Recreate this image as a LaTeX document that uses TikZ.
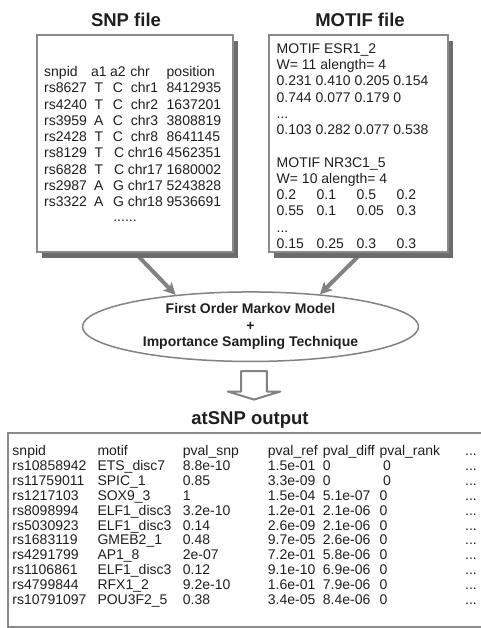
\documentclass[tikz,border=0pt]{standalone}
\usepackage{fontspec}
\setmainfont{Liberation Sans}
\usetikzlibrary{shapes.geometric,shadows,arrows.meta,backgrounds}

\definecolor{frame}{HTML}{8A8A8A}
\definecolor{shade}{HTML}{6C6C6C}
\definecolor{ink}{HTML}{1F1F1F}
\definecolor{flow}{HTML}{828282}

% one column of text lines, first baseline = node base
\newcommand\leftrows[1]{\begin{tabular}[t]{@{}l@{}}#1\end{tabular}}
\newcommand\midrows[1]{\begin{tabular}[t]{@{}c@{}}#1\end{tabular}}
\newcommand\tabcell[1]{\makebox[40pt][l]{#1}}
\newcommand\nudge[1]{\hspace*{#1}}

\begin{document}
\begin{tikzpicture}[x=1pt,y=-1pt,
  filebox/.style={draw=frame,line width=2pt,fill=white,inner sep=0pt,
    drop shadow={shadow xshift=5pt,shadow yshift=-6pt,fill=shade,opacity=1}},
  heading/.style={font=\fontsize{18.5}{22}\selectfont\bfseries,text=ink,inner sep=0pt,anchor=base},
  filetext/.style={font=\fontsize{14}{16.25}\selectfont,text=ink,inner sep=0pt},
  outtext/.style={font=\fontsize{14}{14.85}\selectfont,text=ink,inner sep=0pt,anchor=base west},
  feed/.style={draw=flow,line width=4pt,-{Stealth[length=12pt,width=12pt,inset=3pt]}},
]
\useasboundingbox (0,0) rectangle (480,628);

% headings
\node[heading] (snptitle) at (126,26.6) {SNP file};
\node[heading] (motiftitle) at (360,26.6) {MOTIF file};
\node[heading] (outtitle) at (250,424) {atSNP output};

% input files
\node[filebox,minimum width=195.5pt,minimum height=216pt] (snp) at (134.75,143.5) {};
\node[filebox,minimum width=179pt,minimum height=216pt] (motif) at (358.5,143.5) {};

% SNP file columns
\node[filetext,anchor=base west] (snpid) at (44,76.7) {\leftrows{snpid\\rs8627\\rs4240\\rs3959\\rs2428\\rs8129\\rs6828\\rs2987\\rs3322}};
\node[filetext,anchor=base] (snpaone) at (98.8,76.7) {\midrows{a1\\T\\T\\A\\T\\T\\T\\A\\A}};
\node[filetext,anchor=base west] (snpatwo) at (110,76.7) {\leftrows{a2\\\nudge{2.7pt}C\\\nudge{2.7pt}C\\\nudge{2.7pt}C\\\nudge{2.7pt}C\\\nudge{3.8pt}C\\\nudge{3.8pt}C\\\nudge{3pt}G\\\nudge{3pt}G}};
\node[filetext,anchor=base west] (snpchr) at (127.6,76.7) {\leftrows{\nudge{2.6pt}chr\\\nudge{3.1pt}chr1\\\nudge{3.1pt}chr2\\\nudge{3.1pt}chr3\\\nudge{3.1pt}chr8\\chr16\\chr17\\chr17\\chr18}};
\node[filetext,anchor=base west] (snppos) at (166.5,76.7) {\leftrows{position\\8412935\\1637201\\3808819\\8641145\\4562351\\1680002\\5243828\\9536691}};
\node[filetext,anchor=base] (snpmore) at (125,222) {......};

% MOTIF file lines
\node[filetext,anchor=base west] (motiflines) at (276.5,53.3) {\leftrows{%
MOTIF ESR1\_2\\
W= 11 alength= 4\\
0.231 0.410 0.205 0.154\\
0.744 0.077 0.179 0\\
...\\
0.103 0.282 0.077 0.538\\
\\
MOTIF NR3C1\_5\\
W= 10 alength= 4\\
\tabcell{0.2}\tabcell{0.1}\tabcell{0.5}0.2\\
\tabcell{0.55}\tabcell{0.1}\tabcell{0.05}0.3\\
...\\
\tabcell{0.15}\tabcell{0.25}\tabcell{0.3}0.3}};

% model
\node[ellipse,draw=flow,line width=1.5pt,fill=white,minimum width=336pt,minimum height=69.5pt,
  inner sep=0pt,align=center,font=\fontsize{14}{16.3}\selectfont\bfseries,text=ink]
  (model) at (250.5,326.7) {First Order Markov Model\\+\\Importance Sampling Technique};

\begin{pgfonlayer}{background}
  \path (motif.south) ++(3.5,0) coordinate (motifout);
  \draw[feed] (snp.south) -- (model.157);
  \draw[feed] (motifout) -- (model.25.6);
\end{pgfonlayer}

% hollow down arrow
\coordinate (down) at (254,371);
\draw[draw=flow,line width=2pt,line join=round,fill=white]
  (down) ++(-12.8,0) -- ++(25.6,0) -- ++(0,20.5) -- ++(13.5,0) -- (254,399.6)
  -- (227.8,391.5) -- (241.2,391.5) -- cycle;

% output table
\node[draw=frame,line width=2pt,inner sep=0pt,minimum width=484pt,minimum height=194pt] (outbox) at (250,529.5) {};
\node[outtext] (ocolA) at (12.3,455.8) {\leftrows{snpid\\rs10858942\\rs11759011\\rs1217103\\rs8098994\\rs5030923\\rs1683119\\rs4291799\\rs1106861\\rs4799844\\rs10791097}};
\node[outtext] (ocolB) at (97.3,455.8) {\leftrows{motif\\ETS\_disc7\\SPIC\_1\\SOX9\_3\\ELF1\_disc3\\ELF1\_disc3\\GMEB2\_1\\AP1\_8\\ELF1\_disc3\\RFX1\_2\\POU3F2\_5}};
\node[outtext] (ocolC) at (182.7,455.8) {\leftrows{pval\_snp\\8.8e-10\\0.85\\1\\3.2e-10\\0.14\\0.48\\2e-07\\0.12\\9.2e-10\\0.38}};
\node[outtext] (ocolD) at (267.7,455.8) {\leftrows{pval\_ref\\1.5e-01\\3.3e-09\\1.5e-04\\1.2e-01\\2.6e-09\\9.7e-05\\7.2e-01\\9.1e-10\\1.6e-01\\3.4e-05}};
\node[outtext] (ocolE) at (322.7,455.8) {\leftrows{pval\_diff\\0\\0\\5.1e-07\\2.1e-06\\2.1e-06\\2.6e-06\\5.8e-06\\6.9e-06\\7.9e-06\\8.4e-06}};
\node[outtext] (ocolF) at (379.3,455.8) {\leftrows{pval\_rank\\\nudge{3.5pt}0\\\nudge{3.5pt}0\\0\\0\\0\\0\\0\\0\\0\\0}};
\node[outtext] (ocolG) at (465,455.8) {\leftrows{...\\...\\...\\...\\...\\...\\...\\...\\...\\...\\...}};
\end{tikzpicture}
\end{document}
